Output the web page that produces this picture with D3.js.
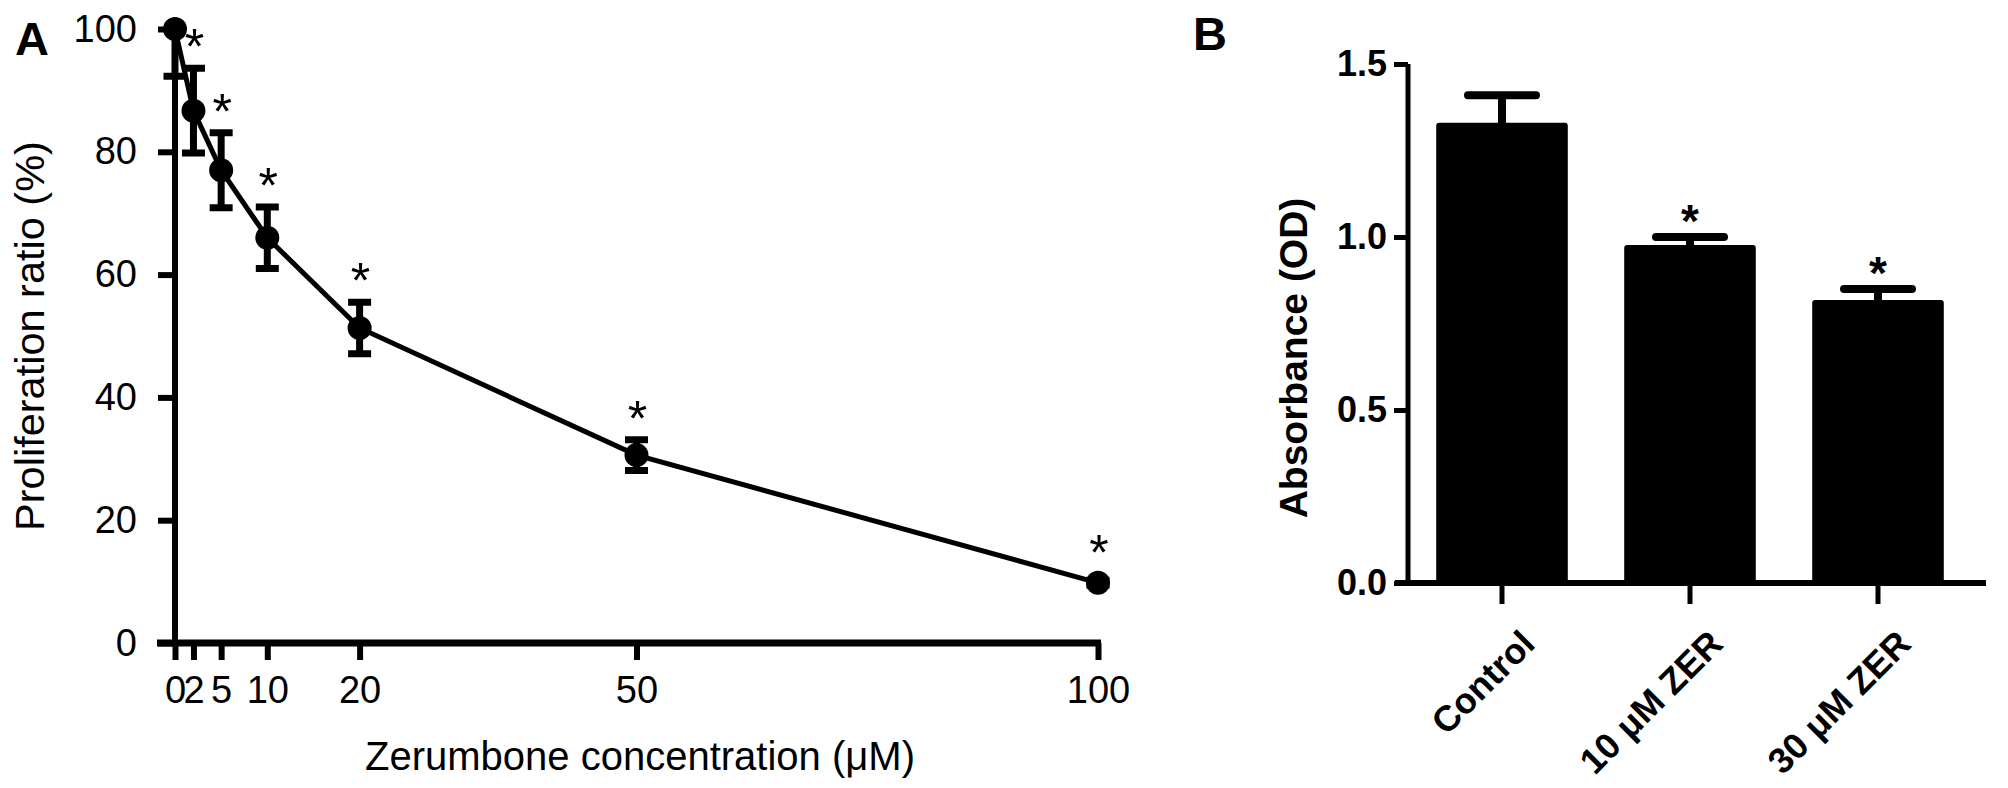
<!DOCTYPE html>
<html>
<head>
<meta charset="utf-8">
<script src="https://cdn.jsdelivr.net/npm/d3@7"></script>
<style>
  body { margin: 0; background: #fff; }
  text { font-family: "Liberation Sans", Arial, sans-serif; fill: #000; }
</style>
</head>
<body>
<div id="chart"></div>
<script>
// Panel A: proliferation vs zerumbone concentration
var conc = [0, 2, 5, 10, 20, 50, 100];
var ratio = [100, 86.7, 77, 66, 51.3, 30.6, 9.8];
var ratioErr = [7.7, 6.9, 6.1, 5.0, 4.2, 2.5, 0.4];
var ratioSig = [false, true, true, true, true, true, true];
var yTicksA = [0, 20, 40, 60, 80, 100];
var xTicksA = [0, 2, 5, 10, 20, 50, 100];

// Panel B: absorbance bars
var groups = ["Control", "10 \u03bcM ZER", "30 \u03bcM ZER"];
var absorb = [1.33, 0.977, 0.818];
var absorbErr = [0.08, 0.023, 0.032];
var absorbSig = [false, true, true];
var yTicksB = [0, 0.5, 1.0, 1.5];

var svg = d3.select('#chart').append('svg').attr('width', 2008).attr('height', 788);
svg.append('rect').attr('width', 2008).attr('height', 788).attr('fill', '#fff');

// ---------- A ----------
var xA = d3.scaleLinear().domain([0, 100]).range([175, 1098]);
var yA = d3.scaleLinear().domain([0, 100]).range([643, 29]);

svg.append('text').attr('x', 15).attr('y', 55)
    .style('font-size', '47px').style('font-weight', 'bold').text('A');

var gyA = svg.append('g').attr('transform', 'translate(' + xA(0) + ',0)')
    .call(d3.axisLeft(yA).tickValues(yTicksA).tickSize(17).tickPadding(21).tickSizeOuter(0));
var gxA = svg.append('g').attr('transform', 'translate(0,' + yA(0) + ')')
    .call(d3.axisBottom(xA).tickValues(xTicksA).tickSize(17).tickPadding(16).tickSizeOuter(0));
[gyA, gxA].forEach(function(g) {
    g.select('.domain').remove();
    g.selectAll('line').attr('stroke', '#000').attr('stroke-width', 6);
    g.selectAll('text').style('font-size', '38px').attr('fill', '#000');
});
svg.append('line').attr('x1', xA(0)).attr('x2', xA(0)).attr('y1', yA(100)).attr('y2', yA(0) + 3)
    .attr('stroke', '#000').attr('stroke-width', 6);
svg.append('line').attr('x1', xA(0) - 18).attr('x2', xA(100) + 3).attr('y1', yA(0)).attr('y2', yA(0))
    .attr('stroke', '#000').attr('stroke-width', 7);

svg.append('text').attr('transform', 'translate(44,336) rotate(-90)')
    .attr('text-anchor', 'middle').style('font-size', '41.5px').text('Proliferation ratio (%)');
svg.append('text').attr('x', 640).attr('y', 770)
    .attr('text-anchor', 'middle').style('font-size', '40px').text('Zerumbone concentration (\u03bcM)');

var ptsA = conc.map(function(c, i) {
    return { x: c, y: ratio[i], e: ratioErr[i], s: ratioSig[i] };
});

svg.append('clipPath').attr('id', 'clipA').append('rect')
    .attr('x', 0).attr('y', yA(100)).attr('width', 1200).attr('height', yA(0) - yA(100));

svg.append('path').datum(ptsA)
    .attr('fill', 'none').attr('stroke', '#000').attr('stroke-width', 5)
    .attr('d', d3.line().x(function(d) { return xA(d.x); }).y(function(d) { return yA(d.y); }));

var capA = 11.5;
svg.append('g').attr('clip-path', 'url(#clipA)').selectAll('path')
    .data(ptsA).enter().append('path')
    .attr('fill', 'none').attr('stroke', '#000').attr('stroke-width', 7)
    .attr('d', function(d) {
        var x = xA(d.x), t = yA(d.y + d.e), b = yA(d.y - d.e);
        return 'M' + x + ',' + t + 'V' + b +
            'M' + (x - capA) + ',' + t + 'H' + (x + capA) +
            'M' + (x - capA) + ',' + b + 'H' + (x + capA);
    });

svg.append('g').selectAll('circle')
    .data(ptsA).enter().append('circle')
    .attr('cx', function(d) { return xA(d.x); })
    .attr('cy', function(d) { return yA(d.y); })
    .attr('r', 12).attr('fill', '#000');

svg.append('g').selectAll('text')
    .data(ptsA.filter(function(d) { return d.s; })).enter().append('text')
    .attr('x', function(d) { return xA(d.x) + 1; })
    .attr('y', function(d) {
        var top = Math.min(yA(d.y + d.e) - 3, yA(d.y) - 12);
        return top - 30 + 29;
    })
    .attr('text-anchor', 'middle').style('font-size', '50px').text('*');

// ---------- B ----------
var xB = d3.scaleBand().domain(groups).range([1408, 1972]).paddingInner(0.3).paddingOuter(0.15);
var yB = d3.scaleLinear().domain([0, 1.5]).range([583, 64]);

svg.append('text').attr('x', 1193).attr('y', 50)
    .style('font-size', '47px').style('font-weight', 'bold').text('B');

var gyB = svg.append('g').attr('transform', 'translate(1408,0)')
    .call(d3.axisLeft(yB).tickValues(yTicksB).tickFormat(d3.format('.1f'))
        .tickSize(14).tickPadding(7).tickSizeOuter(0));
var gxB = svg.append('g').attr('transform', 'translate(0,' + yB(0) + ')')
    .call(d3.axisBottom(xB).tickSize(21).tickSizeOuter(0).tickFormat(''));
[gyB, gxB].forEach(function(g) {
    g.select('.domain').remove();
    g.selectAll('line').attr('stroke', '#000').attr('stroke-width', 5);
});
gyB.selectAll('text').style('font-size', '36px').style('font-weight', 'bold').attr('fill', '#000');

svg.append('line').attr('x1', 1408).attr('x2', 1408).attr('y1', yB(1.5)).attr('y2', yB(0))
    .attr('stroke', '#000').attr('stroke-width', 5);
svg.append('line').attr('x1', 1395).attr('x2', 1986).attr('y1', yB(0)).attr('y2', yB(0))
    .attr('stroke', '#000').attr('stroke-width', 6);

svg.append('g').selectAll('text')
    .data(groups).enter().append('text')
    .attr('transform', function(d) {
        return 'translate(' + (xB(d) + xB.bandwidth() / 2 + 26) + ',637) rotate(-45)';
    })
    .attr('dy', '0.35em').attr('text-anchor', 'end')
    .style('font-size', '36px').style('font-weight', 'bold').text(function(d) { return d; });

svg.append('text').attr('transform', 'translate(1307,358) rotate(-90)')
    .attr('text-anchor', 'middle').style('font-size', '39px').style('font-weight', 'bold')
    .text('Absorbance (OD)');

var ptsB = groups.map(function(g, i) {
    return { g: g, v: absorb[i], e: absorbErr[i], s: absorbSig[i] };
});

var capB = 34;
svg.append('g').selectAll('path')
    .data(ptsB).enter().append('path')
    .attr('fill', 'none').attr('stroke', '#000').attr('stroke-width', 8).attr('stroke-linecap', 'round')
    .attr('d', function(d) {
        var x = xB(d.g) + xB.bandwidth() / 2;
        return 'M' + x + ',' + yB(d.v) + 'V' + yB(d.v + d.e) +
            'M' + (x - capB) + ',' + yB(d.v + d.e) + 'H' + (x + capB);
    });

svg.append('g').selectAll('rect')
    .data(ptsB).enter().append('rect')
    .attr('x', function(d) { return xB(d.g); })
    .attr('y', function(d) { return yB(d.v); })
    .attr('width', xB.bandwidth())
    .attr('height', function(d) { return yB(0) - yB(d.v); })
    .attr('rx', 3).attr('fill', '#000');

svg.append('g').selectAll('text')
    .data(ptsB.filter(function(d) { return d.s; })).enter().append('text')
    .attr('x', function(d) { return xB(d.g) + xB.bandwidth() / 2; })
    .attr('y', function(d) { return yB(d.v + d.e) - 28 + 28; })
    .attr('text-anchor', 'middle').style('font-size', '46px').style('font-weight', 'bold').text('*');
</script>
</body>
</html>
